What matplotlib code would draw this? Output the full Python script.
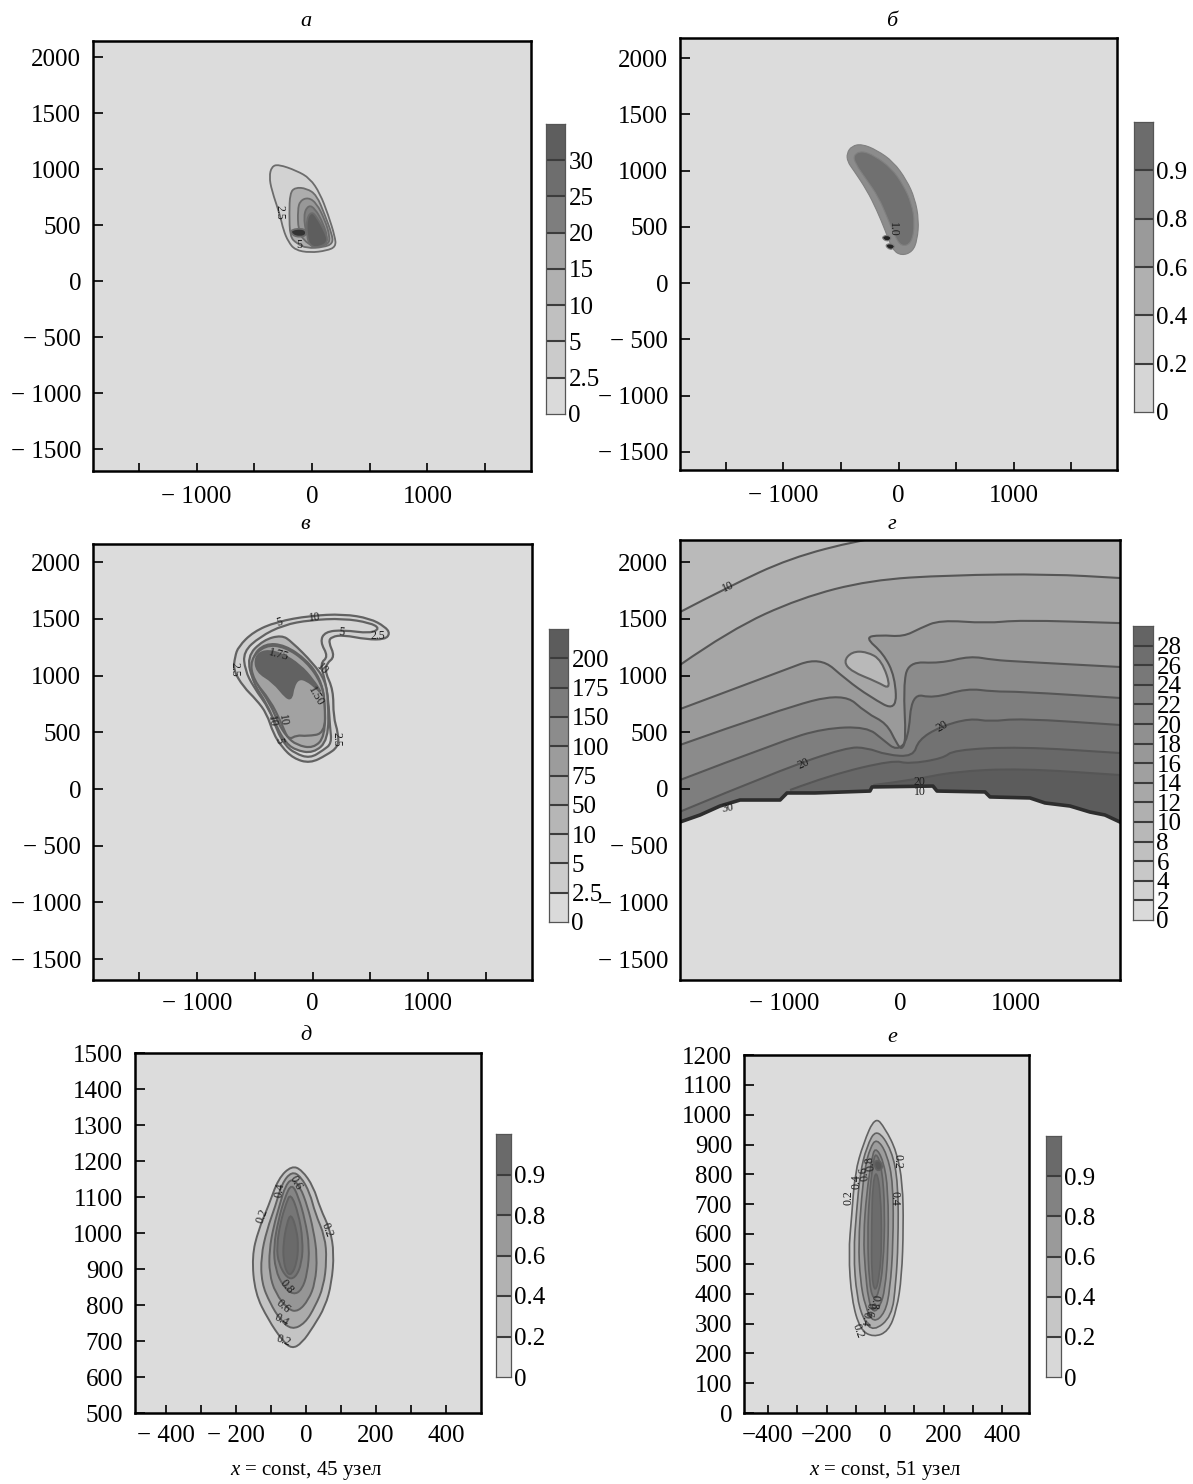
import matplotlib
matplotlib.use('Agg')
import matplotlib.pyplot as plt
from matplotlib.patches import PathPatch
from matplotlib.path import Path

plt.rcParams['font.family'] = ['Liberation Serif', 'DejaVu Serif']
plt.rcParams['mathtext.fontset'] = 'custom'
plt.rcParams['mathtext.it'] = 'Liberation Serif:italic'
plt.rcParams['mathtext.rm'] = 'Liberation Serif'

W, H = 1193, 1484
BG = '#dcdcdc'

###############################
# panel a, contours from outside in
a_c1 = [(-350,1021),(-292,1042),(-133,985),(-18,917),(69,783),(141,589),(199,396),(207,307),(127,271),(-18,253),(-147,277),(-205,351),(-248,455),(-277,589),(-350,813),(-370,932)]
a_c2 = [(-191,783),(-147,836),(-46,827),(40,768),(112,589),(170,426),(184,336),(98,301),(-46,292),(-133,336),(-191,396),(-197,604)]
a_c3 = [(-124,634),(-104,717),(-32,747),(40,694),(112,545),(156,396),(141,322),(11,307),(-75,366),(-119,455)]
a_c4 = [(-75,589),(-32,679),(26,649),(98,515),(141,366),(40,313),(-46,396)]
a_c5 = [(-46,560),(-3,619),(40,574),(112,441),(141,351),(69,301),(-18,307),(-46,411)]
a_c6 = [(-185,461),(-61,470),(-46,411),(-104,390),(-176,411)]
a_fill = ['#d2d2d2','#adadad','#989898','#808080','#5e5e5e','#333333']
a_labels = [('2.5',-283,610,270),('5',-113,322,0)]

# panel b
b_c1 = [(-449,1153),(-406,1218),(-319,1236),(-189,1182),(-45,1079),(70,916),(142,753),(177,560),(163,382),(122,278),(27,243),(-51,293),(-117,471),(-189,649),(-276,827),(-391,1004),(-443,1079)]
b_c2 = [(-391,1138),(-319,1176),(-204,1129),(-60,1019),(42,871),(114,708),(142,530),(114,353),(27,323),(-31,412),(-88,560),(-175,767),(-276,916),(-377,1064)]
b_c3 = [(-150,405),(-100,430),(-55,400),(-100,365)]
b_c4 = [(-120,335),(-70,355),(-25,325),(-70,290)]
b_fill = ['#8c8c8c','#707070','#222222','#222222']
b_labels = [('1.0',-45,477,270)]

# panel в
c_c1 = [(-641,1254),(-511,1386),(-310,1474),(-22,1527),(266,1542),(497,1503),(627,1430),(670,1371),(627,1318),(468,1318),(266,1357),(166,1342),(137,1298),(194,1166),(122,1107),(108,1034),(180,872),(180,637),(223,490),(223,373),(122,299),(-22,226),(-166,270),(-267,373),(-339,490),(-396,666),(-483,784),(-598,901),(-684,1048),(-670,1166)]
c_c2 = [(-598,1210),(-454,1342),(-252,1445),(-22,1489),(266,1503),(497,1465),(583,1415),(497,1371),(266,1401),(108,1386),(65,1298),(137,1166),(65,1107),(108,960),(137,784),(151,549),(166,402),(94,343),(-22,270),(-151,314),(-238,387),(-310,520),(-367,696),(-511,901),(-583,1048)]
c_c3 = [(-569,1166),(-425,1313),(-267,1357),(-180,1298),(7,1107),(108,960),(137,784),(137,431),(7,314),(-151,343),(-238,417),(-310,549),(-396,754),(-511,931)]
c_c4 = [(-526,1166),(-411,1283),(-238,1269),(-50,1136),(65,975),(108,784),(108,461),(7,358),(-137,387),(-223,461),(-295,578),(-367,754),(-497,945)]
c_c5 = [(-540,1140),(-411,1269),(-238,1254),(-50,1122),(79,930),(108,755),(108,490),(-50,465),(-137,475),(-209,431),(-267,578),(-367,784),(-511,960)]
c_c6 = [(-497,1166),(-411,1224),(-267,1195),(-108,1092),(7,960),(79,843),(36,887),(-50,960),(-122,975),(-166,901),(-180,799),(-223,799),(-339,945),(-483,1034)]
c_fill = ['#d0d0d0','#d6d6d6','#b6b6b6','#a8a8a8','#a2a2a2','#626262']
c_labels = [('5',-290,1468,15),('10',16,1509,5),('5',252,1380,-5),('2.5',563,1351,0),('2.5',-676,1054,270),
            ('1.75',-290,1180,-15),('10',88,1054,-45),('1.50',30,819,-60),('10',-258,602,-80),('10',-350,593,-80),
            ('5',-290,426,-80),('2.5',209,437,270)]

# panel г, contours run across the whole panel
d_c1 = [(-1897,1559),(-1483,1780),(-948,2035),(-345,2194),(0,2240),(400,2300)]
d_c2 = [(-1897,1093),(-1466,1401),(-862,1683),(-259,1841),(431,1885),(1293,1894),(1897,1859)]
d_c3 = [(-1897,704),(-1034,1034),(-690,1166),(-460,960),(-259,813),(-29,681),(-43,990),(-144,1195),(-302,1336),(-172,1357),(29,1342),(173,1416),(345,1489),(747,1460),(1035,1489),(1897,1462)]
d_c4 = [(-1897,388),(-1034,702),(-488,849),(-287,667),(-115,579),(-29,402),(15,344),(52,432),(29,902),(72,1122),(345,1107),(604,1172),(805,1137),(1035,1122),(1897,1075)]
d_c5 = [(-1897,79),(-1034,417),(-661,534),(-287,549),(-144,432),(-29,338),(72,432),(101,843),(288,799),(575,887),(805,858),(1035,858),(1897,802)]
d_c6 = [(-1897,-200),(-1034,167),(-460,367),(-287,364),(-115,300),(115,285),(158,432),(345,549),(604,623),(776,593),(1035,623),(1897,564)]
d_c7 = [(-948,-9),(-603,123),(-57,255),(72,220),(374,270),(460,344),(1035,373),(1897,317)]
d_c8 = [(-230,35),(115,79),(460,153),(1035,182),(1897,123)]
d_fill = ['#b1b1b1','#a6a6a6','#9a9a9a','#8b8b8b','#7e7e7e','#727272','#686868','#5c5c5c']
d_top = '#bababa'
d_blob = [(-488,1122),(-416,1210),(-287,1210),(-158,1137),(-72,872),(-201,946),(-416,1034)]
d_blob_fill = '#b9b9b9'
d_edge = [(-1897,-291),(-1724,-229),(-1552,-150),(-1379,-97),(-1034,-97),(-974,-35),(-733,-35),(-259,-18),(-241,18),(284,26),(319,-18),(733,-26),(776,-70),(1121,-79),(1250,-123),(1466,-150),(1638,-203),(1767,-229),(1897,-291)]
d_labels = [('10',-1483,1780,25),('20',360,555,30),('20',-833,226,25),('30',-1483,-167,10),('20',170,60,0),('10',170,-30,0)]

# panel д
e_c1 = [(-41,1187),(-12,1175),(21,1129),(40,1069),(69,1009),(80,944),(73,861),(55,796),(21,740),(-12,694),(-41,678),(-69,703),(-108,759),(-146,833),(-155,935),(-136,1009),(-108,1074),(-79,1152)]
e_c2 = [(-41,1171),(-15,1157),(11,1111),(26,1055),(54,990),(59,925),(50,851),(26,796),(-3,749),(-41,731),(-74,759),(-103,805),(-127,861),(-129,935),(-112,1009),(-88,1074),(-69,1138)]
e_c3 = [(-41,1152),(-17,1129),(4,1074),(21,1009),(32,935),(26,861),(7,814),(-22,782),(-50,786),(-88,833),(-105,888),(-105,953),(-93,1018),(-74,1083),(-60,1129)]
e_c4 = [(-41,1138),(-22,1101),(-3,1037),(10,962),(4,888),(-12,842),(-36,828),(-65,851),(-88,898),(-93,962),(-79,1037),(-60,1101)]
e_c5 = [(-44,1111),(-22,1055),(-9,981),(-12,916),(-31,874),(-55,874),(-79,916),(-84,962),(-74,1027),(-57,1083)]
e_c6 = [(-43,1055),(-27,1009),(-22,962),(-27,916),(-41,884),(-55,888),(-65,925),(-65,972),(-55,1027)]
e_fill = ['#c4c4c4','#ababab','#969696','#858585','#767676','#6a6a6a']
e_labels = [('0.2',-124,1046,70),('0.4',-76,1118,80),('0.6',-29,1140,-60),('0.2',59,1009,-70),('0.8',-55,851,-50),
            ('0.6',-65,796,-40),('0.4',-71,757,-30),('0.2',-65,701,-20)]

# panel е
f_c1 = [(-34,994),(0,955),(40,876),(60,770),(63,625),(57,457),(40,346),(11,273),(-40,254),(-85,279),(-114,379),(-125,536),(-114,659),(-103,804),(-74,904)]
f_c2 = [(-29,955),(23,882),(45,770),(45,569),(37,435),(23,323),(-40,273),(-74,312),(-97,391),(-108,536),(-97,681),(-85,804),(-63,893)]
f_c3 = [(-29,921),(6,871),(28,770),(28,569),(17,413),(0,335),(-40,301),(-68,357),(-85,446),(-91,569),(-80,726),(-68,826),(-51,888)]
f_c4 = [(-34,893),(-6,848),(11,748),(11,547),(0,413),(-17,357),(-40,335),(-57,379),(-68,480),(-74,592),(-63,737),(-46,848)]
f_c5 = [(-32,876),(-11,826),(0,681),(-6,491),(-23,396),(-40,379),(-54,435),(-60,592),(-54,726),(-42,832)]
f_c6 = [(-29,815),(-15,737),(-11,569),(-19,457),(-34,402),(-46,457),(-46,625),(-42,770)]
f_c7 = [(-40,843),(-17,848),(-6,820),(-29,809)]
f_fill = ['#c8c8c8','#b0b0b0','#9c9c9c','#8a8a8a','#7c7c7c','#6c6c6c','#585858']
f_labels = [('0.2',43,843,270),('0.4',32,720,270),('0.2',-125,722,90),('0.4',-97,775,90),('0.6',-72,803,100),('0.8',-52,838,100),
            ('0.8',-36,372,-100),('0.6',-54,346,-100),('0.4',-68,316,-100),('0.2',-92,276,-70)]

# colorbars
a_levels = ['0','2.5','5','10','15','20','25','30']
a_grays = ['#dadada','#cbcbcb','#c0c0c0','#b0b0b0','#a4a4a4','#7e7e7e','#6e6e6e','#5e5e5e']
b_levels = ['0','0.2','0.4','0.6','0.8','0.9']
b_grays = ['#d6d6d6','#c4c4c4','#b0b0b0','#9a9a9a','#828282','#6c6c6c']
c_levels = ['0','2.5','5','10','50','75','100','150','175','200']
c_grays = ['#dadada','#cccccc','#c2c2c2','#b6b6b6','#aaaaaa','#9c9c9c','#8c8c8c','#7c7c7c','#6c6c6c','#5c5c5c']
d_levels = ['0','2','4','6','8','10','12','14','16','18','20','22','24','26','28']
d_grays = ['#dadada','#d0d0d0','#c8c8c8','#c0c0c0','#b8b8b8','#b0b0b0','#a8a8a8','#a0a0a0','#989898','#909090','#888888','#808080','#787878','#6e6e6e','#646464']
e_levels = ['0','0.2','0.4','0.6','0.8','0.9']
e_grays = ['#d8d8d8','#c6c6c6','#b2b2b2','#9a9a9a','#828282','#6a6a6a']

# ticks
big_xticks = [-1500,-1000,-500,0,500,1000,1500]
big_xlabels = ['','\u2212 1000','','0','','1000','']
big_yticks = [-1500,-1000,-500,0,500,1000,1500,2000]
big_ylabels = ['\u2212 1500','\u2212 1000','\u2212 500','0','500','1000','1500','2000']
small_xticks = [-400,-300,-200,-100,0,100,200,300,400]
e_xlabels = ['\u2212 400','','\u2212 200','','0','','200','','400']
f_xlabels = ['\u2212400','','\u2212200','','0','','200','','400']
e_yticks = [500,600,700,800,900,1000,1100,1200,1300,1400,1500]
f_yticks = [0,100,200,300,400,500,600,700,800,900,1000,1100,1200]


def px_axes(fig, left, top, right, bottom):
    return fig.add_axes([left/W, 1-bottom/H, (right-left)/W, (bottom-top)/H])


def curve_path(pts, closed=True, tail=None):
    # the points are control points of a quadratic spline, so the line stays smooth
    verts, codes = [], []
    if closed:
        n = len(pts)
        mid = lambda p, q: ((p[0]+q[0])/2, (p[1]+q[1])/2)
        verts.append(mid(pts[-1], pts[0])); codes.append(Path.MOVETO)
        for i in range(n):
            verts += [pts[i], mid(pts[i], pts[(i+1) % n])]
            codes += [Path.CURVE3, Path.CURVE3]
        verts.append(verts[0]); codes.append(Path.CLOSEPOLY)
    else:
        verts.append(pts[0]); codes.append(Path.MOVETO)
        for i in range(1, len(pts)-1):
            verts += [pts[i], ((pts[i][0]+pts[i+1][0])/2, (pts[i][1]+pts[i+1][1])/2)]
            codes += [Path.CURVE3, Path.CURVE3]
        verts.append(pts[-1]); codes.append(Path.LINETO)
        if tail is not None:
            for p in tail:
                verts.append(p); codes.append(Path.LINETO)
            verts.append(pts[0]); codes.append(Path.CLOSEPOLY)
    return Path(verts, codes)


def blobs(ax, contours, fills, labels, line='#626262', lw=1.6):
    for pts, col in zip(contours, fills):
        ax.add_patch(PathPatch(curve_path(pts), fc=col, ec=line, lw=lw))
    put_labels(ax, labels)


def put_labels(ax, labels):
    for s, x, y, rot in labels:
        ax.text(x, y, s, fontsize=8.5, rotation=rot, color='#1c1c1c', ha='center', va='center',
                rotation_mode='anchor', zorder=7)


def style(ax, xlim, ylim, xt, xl, yt, yl, xpad=9):
    ax.set_facecolor(BG)
    ax.set_xlim(xlim)
    ax.set_ylim(ylim)
    ax.set_xticks(xt, xl)
    ax.set_yticks(yt, yl)
    ax.tick_params(axis='x', direction='in', length=6, width=1.2, labelsize=18, pad=xpad)
    ax.tick_params(axis='y', direction='in', length=7, width=1.2, labelsize=18, pad=8.5)
    for s in ax.spines.values():
        s.set_linewidth(1.8)
        s.set_zorder(6)


def colorbar(fig, box, levels, grays):
    cax = px_axes(fig, *box)
    n = len(levels)
    for i in range(n):
        cax.bar(0, 1, bottom=i, width=1, color=grays[i], edgecolor='none')
    cax.hlines(range(1, n), -0.5, 0.5, color='#3c3c3c', lw=1.5)
    cax.set_xlim(-0.5, 0.5)
    cax.set_ylim(0, n)
    cax.set_xticks([])
    cax.yaxis.tick_right()
    cax.set_yticks(range(n), levels)
    cax.tick_params(axis='y', length=0, labelsize=18, pad=2.5)
    for s in cax.spines.values():
        s.set_linewidth(0.9)
        s.set_color('#555555')


def title(fig, s, x, y):
    fig.text(x/W, 1-y/H, s, fontsize=16, style='italic', ha='center', va='center')


if __name__ == "__main__":
    fig = plt.figure(figsize=(W/100, H/100), dpi=100, facecolor='white')

    big_xlim = (-1897, 1897)
    big_ylim = (-1696, 2143)

    ax = px_axes(fig, 93, 41, 531, 471)
    style(ax, big_xlim, big_ylim, big_xticks, big_xlabels, big_yticks, big_ylabels, xpad=11)
    blobs(ax, [a_c1, a_c2, a_c3, a_c4, a_c5, a_c6], a_fill, a_labels, line='#6c6c6c', lw=1.3)
    colorbar(fig, (546, 124, 565, 414), a_levels, a_grays)

    ax = px_axes(fig, 680, 38, 1117, 470)
    style(ax, big_xlim, (-1662, 2178), big_xticks, big_xlabels, big_yticks, big_ylabels, xpad=11)
    blobs(ax, [b_c1, b_c2, b_c3, b_c4], b_fill, b_labels, line='#808080', lw=0.8)
    colorbar(fig, (1134, 122, 1153, 412), b_levels, b_grays)

    ax = px_axes(fig, 93, 544, 532, 980)
    style(ax, big_xlim, (-1683, 2159), big_xticks, big_xlabels, big_yticks, big_ylabels)
    blobs(ax, [c_c1, c_c2, c_c3, c_c4, c_c5, c_c6], c_fill, c_labels)
    colorbar(fig, (549, 629, 568, 922), c_levels, c_grays)

    ax = px_axes(fig, 680, 540, 1120, 980)
    style(ax, big_xlim, (-1683, 2194), big_xticks, big_xlabels, big_yticks, big_ylabels)
    ax.set_facecolor(d_top)
    d_curves = [d_c1, d_c2, d_c3, d_c4, d_c5, d_c6, d_c7, d_c8]
    for pts, col in zip(d_curves, d_fill):
        x0 = pts[0][0]
        tail = [(1897, -1683), (x0, -1683)]
        if pts is d_c1:
            tail = [(1897, 2300), (1897, -1683), (x0, -1683)]
        ax.add_patch(PathPatch(curve_path(pts, closed=False, tail=tail), fc=col, ec='none'))
    ax.add_patch(PathPatch(curve_path(d_blob), fc=d_blob_fill, ec='#626262', lw=1.5, zorder=3))
    for pts in d_curves:
        ax.add_patch(PathPatch(curve_path(pts, closed=False), fc='none', ec='#565656', lw=1.5, zorder=3))
    edge_x = [p[0] for p in d_edge]
    edge_y = [p[1] for p in d_edge]
    ax.fill_between(edge_x, edge_y, -1683, color=BG, zorder=4)
    ax.plot(edge_x, edge_y, color='#2e2e2e', lw=2.6, zorder=5)
    put_labels(ax, d_labels)
    colorbar(fig, (1133, 626, 1153, 920), d_levels, d_grays)

    ax = px_axes(fig, 135, 1053, 481, 1413)
    style(ax, (-489, 500), (500, 1500), small_xticks, e_xlabels, e_yticks, [str(v) for v in e_yticks])
    blobs(ax, [e_c1, e_c2, e_c3, e_c4, e_c5, e_c6], e_fill, e_labels, lw=1.4)
    colorbar(fig, (496, 1134, 511, 1377), e_levels, e_grays)

    ax = px_axes(fig, 744, 1055, 1029, 1413)
    style(ax, (-482, 492), (0, 1200), small_xticks, f_xlabels, f_yticks, [str(v) for v in f_yticks])
    blobs(ax, [f_c1, f_c2, f_c3, f_c4, f_c5, f_c6, f_c7], f_fill, f_labels, lw=1.2)
    colorbar(fig, (1046, 1136, 1061, 1377), e_levels, e_grays)

    title(fig, 'а', 306, 21)
    title(fig, 'б', 892, 21)
    title(fig, 'в', 305, 524)
    title(fig, 'г', 892, 524)
    title(fig, 'д', 306, 1036)
    title(fig, 'е', 892, 1037)
    fig.text(306/W, 1-1471/H, '$x$ = const, 45 узел', fontsize=15, ha='center', va='center')
    fig.text(885/W, 1-1471/H, '$x$ = const, 51 узел', fontsize=15, ha='center', va='center')

    fig.savefig('out.png', dpi=100)
